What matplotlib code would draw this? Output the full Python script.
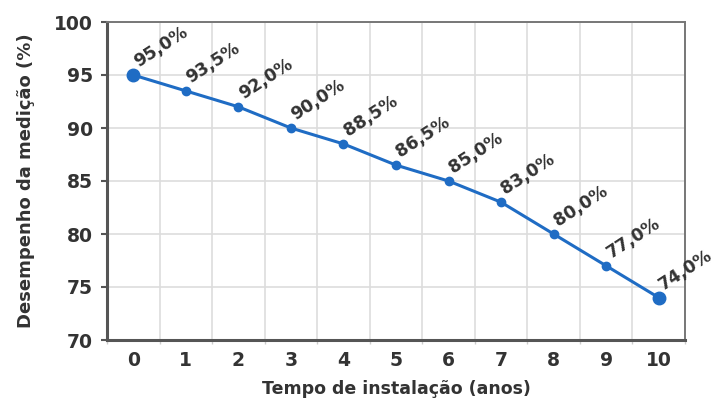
import matplotlib
matplotlib.use("Agg")
import matplotlib.pyplot as plt
from matplotlib.ticker import MultipleLocator

anos = [0, 1, 2, 3, 4, 5, 6, 7, 8, 9, 10]
desempenho = [95.0, 93.5, 92.0, 90.0, 88.5, 86.5, 85.0, 83.0, 80.0, 77.0, 74.0]
y_ticks = [70, 75, 80, 85, 90, 95, 100]

plt.rcParams['font.family'] = ['DejaVu Sans']
texto = '#333333'
azul = '#1f6cc4'

fig = plt.figure(figsize=(7.18, 4.0), dpi=100)
ax = fig.add_axes([0.149, 0.15, 0.805, 0.795])

ax.plot(anos, desempenho, color=azul, lw=2.2, marker='o', ms=6, zorder=3)
ax.plot([anos[0], anos[-1]], [desempenho[0], desempenho[-1]], ls='none',
        marker='o', ms=9, color=azul, zorder=4)

for x, y in zip(anos, desempenho):
    rotulo = f"{y:.1f}%".replace('.', ',')
    ax.annotate(rotulo, (x, y), xytext=(5, 3), textcoords='offset points',
                rotation=33, rotation_mode='anchor', ha='left', va='bottom',
                fontsize=12.5, fontweight='bold', color=texto, zorder=5)

ax.set_xlim(-0.5, 10.5)
ax.set_ylim(70, 100)
ax.set_xticks(anos)
ax.set_yticks(y_ticks)
ax.xaxis.set_minor_locator(MultipleLocator(1, offset=0.5))
ax.grid(True, which='minor', axis='x', color='#dddddd', lw=1.2)
ax.grid(True, which='major', axis='y', color='#dddddd', lw=1.2)
ax.set_axisbelow(True)

ax.tick_params(axis='x', which='major', length=0, pad=8, labelsize=13.5,
               labelcolor=texto)
ax.tick_params(axis='x', which='minor', length=3, width=1, color='#cccccc')
ax.tick_params(axis='y', length=4, width=1.5, color='#555555', pad=6,
               labelsize=13.5, labelcolor=texto)
for lbl in ax.get_xticklabels() + ax.get_yticklabels():
    lbl.set_fontweight('bold')

for lado in ['left', 'bottom']:
    ax.spines[lado].set_color('#555555')
    ax.spines[lado].set_linewidth(2.2)
for lado in ['top', 'right']:
    ax.spines[lado].set_color('#777777')
    ax.spines[lado].set_linewidth(1.4)

ax.set_xlabel('Tempo de instalação (anos)', fontsize=12.5, fontweight='bold',
              color=texto, labelpad=7)
ax.set_ylabel('Desempenho da medição (%)', fontsize=13, fontweight='bold',
              color=texto, labelpad=14)

fig.savefig('out.png', dpi=100, facecolor='white')
